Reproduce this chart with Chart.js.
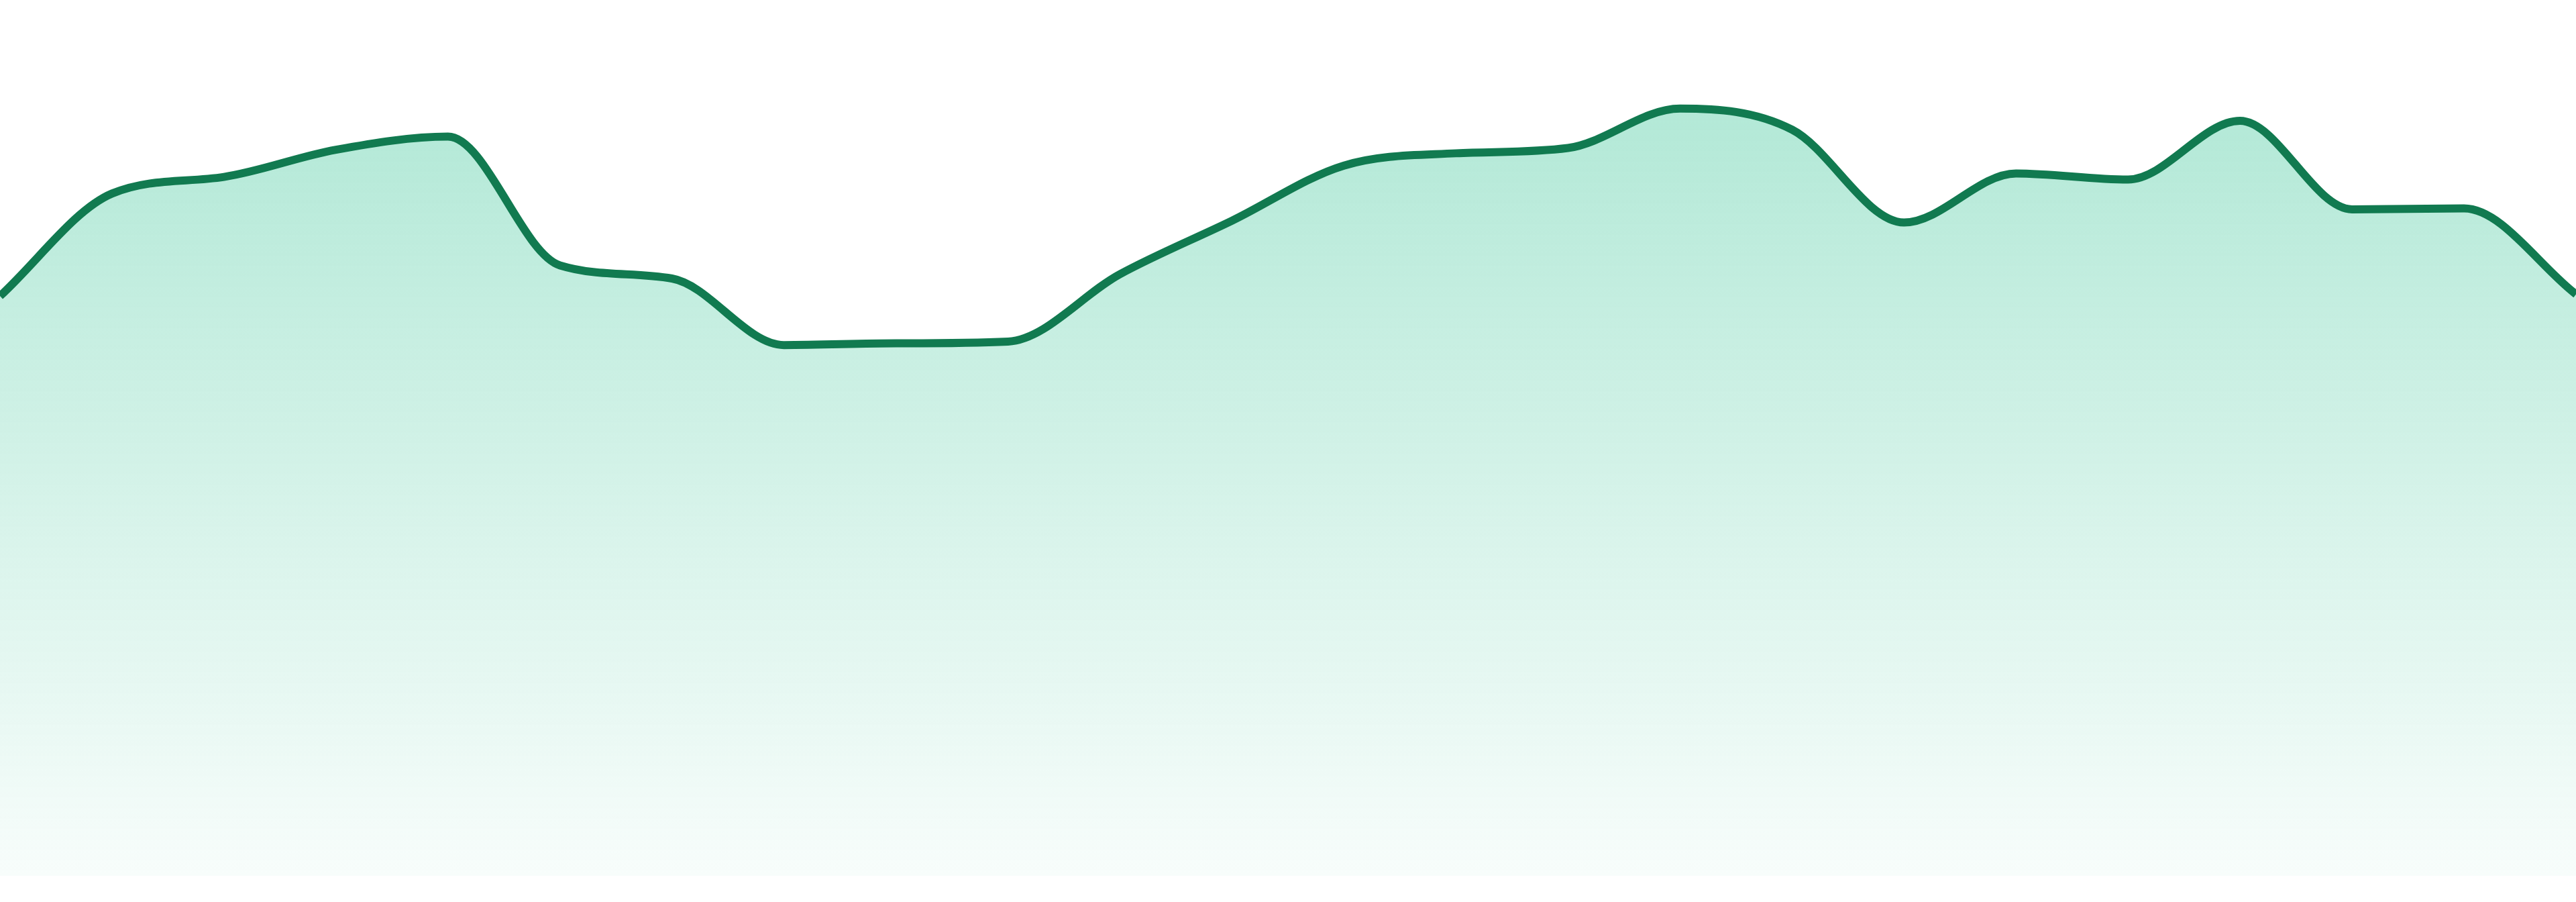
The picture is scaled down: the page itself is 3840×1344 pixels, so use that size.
<!DOCTYPE html>
<html lang="en">
<head>
<meta charset="utf-8">
<title>Area trend</title>
<script src="https://cdn.jsdelivr.net/npm/chart.js@4.4.1/dist/chart.umd.min.js"></script>
<style>
  html, body { margin: 0; padding: 0; background: #ffffff; }
  .chart-wrap { position: relative; width: 3840px; height: 1344px; }
</style>
</head>
<body>
<div class="chart-wrap">
  <canvas id="trendChart" width="3840" height="1344"></canvas>
</div>
<script>
// ============ data ============
const labels = ['1', '2', '3', '4', '5', '6', '7', '8', '9', '10', '11', '12',
                '13', '14', '15', '16', '17', '18', '19', '20', '21', '22', '23', '24'];
const values = [66.2, 77.9, 79.8, 82.9, 84.4, 69.7, 68.2, 60.6, 60.8, 61.0, 68.7, 74.8,
                81.1, 82.5, 83.1, 87.6, 85.2, 74.6, 80.2, 79.5, 86.2, 76.1, 76.2, 66.4];
const yMin = 0;
const yMax = 100;

(function () {
  'use strict';

  function renderTrendChart() {
    const canvas = document.getElementById('trendChart');
    if (!canvas || typeof Chart === 'undefined') return;

    const ctx = canvas.getContext('2d');

    new Chart(ctx, {
      type: 'line',
      data: {
        labels: labels,
        datasets: [{
          data: values,
          borderColor: '#117a50',
          borderWidth: 12,
          fill: 'start',
          // green fade, top of area -> bottom
          backgroundColor: function (context) {
            const area = context.chart.chartArea;
            if (!area) return 'rgba(16, 185, 129, 0.3)';
            const g = context.chart.ctx.createLinearGradient(0, area.top, 0, area.bottom);
            g.addColorStop(0, 'rgba(16, 185, 129, 0.36)');
            g.addColorStop(1, 'rgba(16, 185, 129, 0.03)');
            return g;
          },
          cubicInterpolationMode: 'monotone',
          pointRadius: 0,
          pointHoverRadius: 0
        }]
      },
      options: {
        responsive: false,
        animation: false,
        layout: { padding: { top: 0, right: 0, bottom: 39, left: 0 } },
        plugins: {
          legend: { display: false },
          tooltip: { enabled: false }
        },
        scales: {
          x: { display: false },
          y: { display: false, min: yMin, max: yMax }
        }
      }
    });
  }

  if (document.readyState === 'loading') {
    document.addEventListener('DOMContentLoaded', renderTrendChart);
  } else {
    renderTrendChart();
  }
})();
</script>
</body>
</html>
